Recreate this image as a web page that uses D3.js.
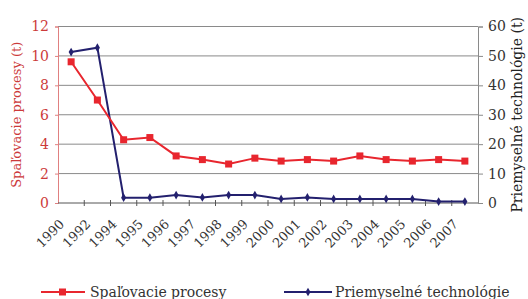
<!DOCTYPE html>
<html>
<head>
<meta charset="utf-8">
<script src="https://cdn.jsdelivr.net/npm/d3@7"></script>
<style>
  body { margin: 0; background: #fff; }
</style>
</head>
<body>
<script>
// chart data
var years = ["1990","1992","1994","1995","1996","1997","1998","1999","2000",
    "2001","2002","2003","2004","2005","2006","2007"];
var spalovacie = [9.6, 7.0, 4.3, 4.45, 3.2, 2.95, 2.65, 3.05, 2.85, 2.95, 2.85, 3.2, 2.95, 2.85, 2.95, 2.85];
var priemyselne = [51.3, 52.8, 1.8, 1.8, 2.7, 1.9, 2.7, 2.7, 1.4, 1.9, 1.4, 1.4, 1.4, 1.4, 0.5, 0.5];
var leftTicks = [0, 2, 4, 6, 8, 10, 12];
var rightTicks = [0, 10, 20, 30, 40, 50, 60];

var width = 528, height = 299;
var margin = {left: 58, right: 50, top: 26.5, bottom: 96};
var red = "#e8262e", navy = "#23206e";
var serif = "'DejaVu Serif', 'Liberation Serif', serif";

var svg = d3.select("body").append("svg")
    .attr("width", width)
    .attr("height", height)
    .style("font-family", serif);

var x = d3.scaleBand()
    .domain(years)
    .range([margin.left, width - margin.right]);

var yL = d3.scaleLinear().domain([0, 12]).range([height - margin.bottom, margin.top]);
var yR = d3.scaleLinear().domain([0, 60]).range([height - margin.bottom, margin.top]);

// gridlines
svg.append("g")
    .selectAll("line")
    .data(leftTicks.slice(1))
    .enter().append("line")
    .attr("x1", margin.left).attr("x2", width - margin.right)
    .attr("y1", function(d){ return yL(d); })
    .attr("y2", function(d){ return yL(d); })
    .attr("stroke", "#8a8a8a").attr("stroke-width", 1);

// left axis
var axL = svg.append("g")
    .attr("transform", "translate(" + margin.left + ",0)")
    .call(d3.axisLeft(yL).tickValues(leftTicks).tickSize(3).tickPadding(6))
    .style("font-family", serif).attr("font-size", 14);
axL.select(".domain").attr("stroke", "#e08080");
axL.selectAll(".tick line").attr("stroke", "#e08080");
axL.selectAll("text").attr("fill", "#cc3a3a").style("font-family", serif);

// right axis
var axR = svg.append("g")
    .attr("transform", "translate(" + (width - margin.right) + ",0)")
    .call(d3.axisRight(yR).tickValues(rightTicks).tickSize(5).tickPadding(5))
    .style("font-family", serif).attr("font-size", 14);
axR.select(".domain").attr("stroke", "#8a8a8a");
axR.selectAll(".tick line").attr("stroke", "#8a8a8a");
axR.selectAll("text").attr("fill", "#333").style("font-family", serif);

// bottom axis: ticks between categories
var baseY = yL(0);
svg.append("line")
    .attr("x1", margin.left).attr("x2", width - margin.right)
    .attr("y1", baseY).attr("y2", baseY)
    .attr("stroke", "#555");
svg.append("g")
    .selectAll("line")
    .data(years.slice(1))
    .enter().append("line")
    .attr("x1", function(d){ return x(d); })
    .attr("x2", function(d){ return x(d); })
    .attr("y1", baseY - 3).attr("y2", baseY + 3)
    .attr("stroke", "#555");

svg.append("g")
    .selectAll("text")
    .data(years)
    .enter().append("text")
    .attr("transform", function(d){
        return "translate(" + (x(d) + x.bandwidth() / 2 - 6) + "," + (baseY + 22) + ") rotate(-45)";
    })
    .attr("text-anchor", "end")
    .attr("fill", "#333")
    .attr("font-size", 13)
    .text(function(d){ return d; });

// axis titles
svg.append("text")
    .attr("transform", "translate(21," + ((margin.top + baseY) / 2) + ") rotate(-90)")
    .attr("text-anchor", "middle")
    .attr("fill", "#cc3a3a")
    .attr("font-size", 13)
    .text("Spaľovacie procesy (t)");

svg.append("text")
    .attr("transform", "translate(522," + ((margin.top + baseY) / 2) + ") rotate(-90)")
    .attr("text-anchor", "middle")
    .attr("fill", "#222")
    .attr("font-size", 14)
    .text("Priemyselné technológie (t)");

// lines
var cx = function(d, i){ return x(years[i]) + x.bandwidth() / 2; };

svg.append("path")
    .datum(priemyselne)
    .attr("fill", "none").attr("stroke", navy).attr("stroke-width", 2)
    .attr("d", d3.line().x(cx).y(function(d){ return yR(d); }));

svg.append("path")
    .datum(spalovacie)
    .attr("fill", "none").attr("stroke", red).attr("stroke-width", 2)
    .attr("d", d3.line().x(cx).y(function(d){ return yL(d); }));

// markers
svg.append("g").selectAll("path")
    .data(priemyselne)
    .enter().append("path")
    .attr("d", d3.symbol().type(d3.symbolDiamond).size(22))
    .attr("transform", function(d, i){ return "translate(" + cx(d, i) + "," + yR(d) + ")"; })
    .attr("fill", navy);

svg.append("g").selectAll("rect")
    .data(spalovacie)
    .enter().append("rect")
    .attr("x", function(d, i){ return cx(d, i) - 3.5; })
    .attr("y", function(d){ return yL(d) - 3.5; })
    .attr("width", 7).attr("height", 7)
    .attr("fill", red);

// legend
var legend = svg.append("g");
legend.append("line").attr("x1", 41).attr("x2", 85).attr("y1", 292).attr("y2", 292)
    .attr("stroke", red).attr("stroke-width", 2);
legend.append("rect").attr("x", 59).attr("y", 288.5).attr("width", 7).attr("height", 7).attr("fill", red);
legend.append("text").attr("x", 90).attr("y", 297).attr("fill", "#333")
    .attr("font-size", 14).text("Spaľovacie procesy");

legend.append("line").attr("x1", 284).attr("x2", 332).attr("y1", 292).attr("y2", 292)
    .attr("stroke", navy).attr("stroke-width", 2);
legend.append("path").attr("d", d3.symbol().type(d3.symbolDiamond).size(22))
    .attr("transform", "translate(308,292)").attr("fill", navy);
legend.append("text").attr("x", 335).attr("y", 297).attr("fill", "#333")
    .attr("font-size", 14).text("Priemyselné technológie");
</script>
</body>
</html>
